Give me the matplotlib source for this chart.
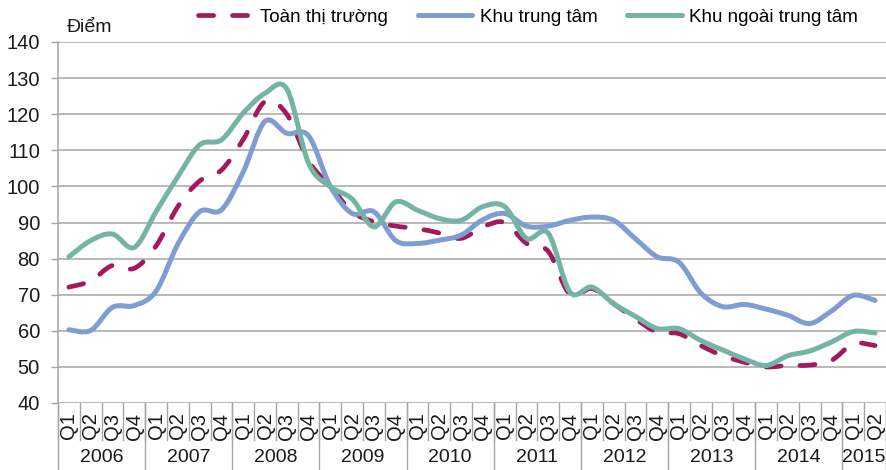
import numpy as np
import matplotlib
matplotlib.use("Agg")
import matplotlib.pyplot as plt
from matplotlib.path import Path
from matplotlib.patches import PathPatch
from matplotlib.lines import Line2D

plt.rcParams['font.family'] = ['Liberation Sans', 'DejaVu Sans']

years = ['2006', '2007', '2008', '2009', '2010', '2011', '2012', '2013', '2014', '2015']
quarters = ['Q1', 'Q2', 'Q3', 'Q4'] * 9 + ['Q1', 'Q2']

toan_thi_truong = [72.1, 73.8, 78.1, 77.3, 83.5, 94.4, 101.5, 104.5, 113.0, 123.5,
                   120.0, 107.0, 100.0, 93.0, 90.2, 89.0, 88.3, 87.1, 85.6, 88.8,
                   90.0, 84.2, 82.0, 70.0, 71.7, 67.5, 63.3, 59.6, 59.2, 55.9,
                   53.1, 51.3, 50.0, 50.4, 50.5, 51.8, 56.4, 55.9]
khu_trung_tam = [60.3, 60.1, 66.5, 67.0, 71.0, 84.0, 93.0, 93.5, 104.0, 118.0,
                 114.7, 114.0, 100.0, 92.5, 93.0, 85.0, 84.2, 85.1, 86.5, 90.8,
                 92.5, 89.0, 89.0, 90.6, 91.5, 90.6, 85.5, 80.5, 79.0, 70.5,
                 66.7, 67.3, 66.0, 64.3, 62.0, 65.5, 69.8, 68.4]
khu_ngoai = [80.5, 85.0, 86.8, 83.1, 93.0, 102.7, 111.5, 112.9, 120.3, 125.8,
             127.0, 106.4, 99.9, 96.5, 88.8, 95.7, 93.4, 91.1, 90.6, 94.4,
             94.4, 85.6, 87.0, 70.7, 72.1, 67.5, 64.0, 60.6, 60.6, 57.3,
             54.7, 52.2, 50.4, 53.1, 54.4, 56.9, 59.8, 59.4]

RED = '#A3195B'
BLUE = '#7F9DD3'
GREEN = '#74B4A4'
GRID = '#A6A6A6'


def smooth_path(xs, ys):
    # Excel-style smoothed line as cubic Bezier segments
    pts = np.column_stack([xs, ys])
    n = len(pts)
    verts = [pts[0]]
    codes = [Path.MOVETO]
    for i in range(n - 1):
        p0 = pts[max(i - 1, 0)]
        p1 = pts[i]
        p2 = pts[i + 1]
        p3 = pts[min(i + 2, n - 1)]
        verts += [p1 + (p2 - p0) / 6, p2 - (p3 - p1) / 6, p2]
        codes += [Path.CURVE4] * 3
    return Path(verts, codes)


fig = plt.figure(figsize=(8.86, 4.70), dpi=100)
ax = fig.add_axes([58 / 886, 67 / 470, 828 / 886, 361 / 470])

x = np.arange(len(quarters)) + 0.5
series = [
    (toan_thi_truong, RED, (0, (3.2, 4.0)), 3.4),
    (khu_trung_tam, BLUE, '-', 3.6),
    (khu_ngoai, GREEN, '-', 3.6),
]
for vals, col, ls, lw in series:
    ax.add_patch(PathPatch(smooth_path(x, vals), fill=False, edgecolor=col,
                           linewidth=lw, linestyle=ls, capstyle='round',
                           joinstyle='round', zorder=3))

ax.set_xlim(0, len(quarters))
ax.set_ylim(40, 140)
ax.set_yticks(range(40, 141, 10))
ax.tick_params(axis='y', length=5, width=1, color=GRID, pad=8, labelsize=14.5,
               labelcolor='#1a1a1a')
ax.set_xticks([])
ax.grid(axis='y', color=GRID, linewidth=1.1)
ax.set_axisbelow(True)
for s in ['top', 'right', 'bottom']:
    ax.spines[s].set_visible(False)
ax.spines['left'].set_color(GRID)
ax.spines['left'].set_linewidth(1.1)

tr = ax.get_xaxis_transform()
q_sep = -37 / 361
y_sep = -67 / 361
for i in range(len(quarters) + 1):
    ax.add_line(Line2D([i, i], [0, q_sep], transform=tr, color=GRID, lw=1,
                       clip_on=False))
for k in list(range(0, 37, 4)) + [38]:
    ax.add_line(Line2D([k, k], [0, y_sep], transform=tr, color=GRID, lw=1,
                       clip_on=False))
for xi, q in zip(x, quarters):
    ax.text(xi, -23 / 361, q, transform=tr, rotation=90, ha='center',
            va='center', fontsize=14.5, color='#1a1a1a')
for k, yr in enumerate(years):
    cx = 4 * k + (2 if k < 9 else 1)
    ax.text(cx, -55 / 361, yr, transform=tr, ha='center', va='center',
            fontsize=14, color='#1a1a1a')

fig.text(67 / 886, 1 - 28 / 470, 'Điểm', ha='left', va='center', fontsize=14,
         color='#1a1a1a')

handles = [
    Line2D([], [], color=RED, lw=3.4, linestyle=(0, (3.2, 4.0)),
           dash_capstyle='round'),
    Line2D([], [], color=BLUE, lw=3.6, solid_capstyle='round'),
    Line2D([], [], color=GREEN, lw=3.6, solid_capstyle='round'),
]
labels = ['Toàn thị trường', 'Khu trung tâm', 'Khu ngoài trung tâm']
fig.legend(handles, labels, loc='center', bbox_to_anchor=(528 / 886, 1 - 17 / 470),
           ncol=3, frameon=False, fontsize=13.5, handlelength=2.9,
           handletextpad=0.4, columnspacing=1.6, borderaxespad=0, borderpad=0)

fig.savefig('out.png', dpi=100)
